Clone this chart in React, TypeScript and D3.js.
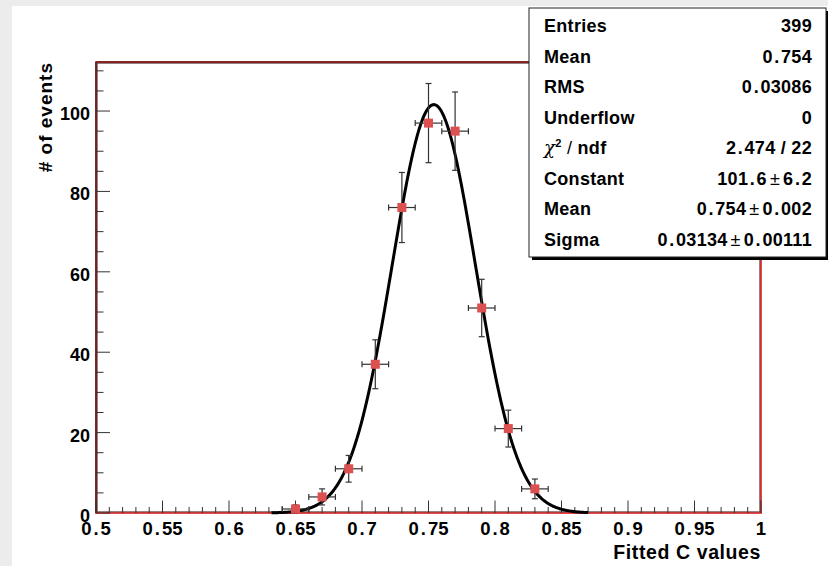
import React from "react";
import * as d3 from "d3";

const binCenters = [0.65, 0.67, 0.69, 0.71, 0.73, 0.75, 0.77, 0.79, 0.81, 0.83];
const binCounts = [1, 4, 11, 37, 76, 97, 95, 51, 21, 6];
const binHalfWidth = 0.01;
const fitConstant = 101.6;
const fitMean = 0.754;
const fitSigma = 0.03134;
const fitRange = [0.632, 0.87];
const xTickLabels = ["0.5", "0.55", "0.6", "0.65", "0.7", "0.75", "0.8", "0.85", "0.9", "0.95", "1"];
const yTickLabels = ["0", "20", "40", "60", "80", "100"];
const statLabels = ["Entries", "Mean", "RMS", "Underflow", "CHI", "Constant", "Mean", "Sigma"];
const statValues = ["399", "0.754", "0.03086", "0", "2.474 / 22", "101.6|6.2", "0.754|0.002", "0.03134|0.00111"];

const W = 828;
const H = 566;
const F = "'Liberation Sans', Arial, Helvetica, sans-serif";

function numSpans(s: string, gap: number) {
  const parts = s.split(".");
  if (parts.length === 1) return <tspan>{s}</tspan>;
  return (
    <>
      <tspan>{parts[0]}</tspan>
      <tspan dx={gap}>.</tspan>
      <tspan dx={gap}>{parts[1]}</tspan>
    </>
  );
}

function NumText({ s, x, y, anchor, size, gap }: { s: string; x: number; y: number; anchor: string; size: number; gap: number }) {
  return (
    <text x={x} y={y} textAnchor={anchor} fontFamily={F} fontWeight="bold" fontSize={size} fill="#000">
      {numSpans(s, gap)}
    </text>
  );
}

export default function App() {
  const x = d3.scaleLinear().domain([0.5, 1]).range([96, 761]);
  const y = d3.scaleLinear().domain([0, 112.2]).range([513, 62]);
  const gauss = (v: number) => fitConstant * Math.exp(-((v - fitMean) ** 2) / (2 * fitSigma * fitSigma));
  const pts = d3.range(0, 401).map((i) => fitRange[0] + ((fitRange[1] - fitRange[0]) * i) / 400);
  const line = d3
    .line<number>()
    .x((d) => x(d))
    .y((d) => y(gauss(d)));

  const xMinor = d3.range(0, 51).map((i) => 0.5 + i * 0.01);
  const yMinor = d3.range(0, 23).map((i) => i * 5);

  const boxL = 529,
    boxT = 8,
    boxR = 826,
    boxB = 257;

  return (
    <svg width={W} height={H} style={{ position: "fixed", left: 0, top: 0 }}>
      <rect x={0} y={0} width={W} height={H} fill="#ececec" />
      <rect x={12} y={6} width={W - 12} height={H - 6} fill="#fff" />

      {/* frame */}
      <rect x={96} y={62} width={665} height={451} fill="none" stroke="#e01818" strokeWidth={1.6} />
      <rect x={97.2} y={63.2} width={662.6} height={448.6} fill="none" stroke="#3a1010" strokeWidth={1} opacity={0.75} />
      <line x1={96} x2={96} y1={62} y2={513} stroke="#5a1a1a" strokeWidth={1.5} />
      <line x1={96} x2={761} y1={62} y2={62} stroke="#6a1c1c" strokeWidth={1.5} />

      {/* x ticks */}
      {xMinor.map((v, i) => {
        const major = i % 5 === 0;
        return (
          <line key={"xt" + i} x1={x(v)} x2={x(v)} y1={513} y2={513 - (major ? 12.5 : 6)} stroke="#333" strokeWidth={1} />
        );
      })}
      {/* y ticks */}
      {yMinor.map((v, i) => {
        const major = v % 20 === 0;
        return (
          <line key={"yt" + i} x1={96} x2={96 + (major ? 14 : 7.5)} y1={y(v)} y2={y(v)} stroke="#333" strokeWidth={1} />
        );
      })}

      {/* x tick labels */}
      {xTickLabels.map((s, i) => (
        <NumText key={"xl" + i} s={s} x={x(+s)} y={535} anchor="middle" size={18.5} gap={2} />
      ))}
      {/* y tick labels */}
      {yTickLabels.map((s, i) => (
        <NumText key={"yl" + i} s={s} x={90} y={y(+s) + 9} anchor="end" size={18} gap={2} />
      ))}

      {/* axis titles */}
      <text x={761} y={559} textAnchor="end" fontFamily={F} fontWeight="bold" fontSize={19.5} letterSpacing={0.6}>
        Fitted C values
      </text>
      <text
        transform="translate(52,62) rotate(-90)"
        textAnchor="end"
        fontFamily={F}
        fontWeight="bold"
        fontSize={19}
        letterSpacing={1}
      >
        # of events
      </text>

      {/* fit curve */}
      <path d={line(pts) || ""} fill="none" stroke="#000" strokeWidth={3} strokeLinejoin="round" />

      {/* data points */}
      {binCenters.map((c, i) => {
        const n = binCounts[i];
        const e = Math.sqrt(n);
        const cx = x(c);
        const cy = y(n);
        const x0 = x(c - binHalfWidth);
        const x1 = x(c + binHalfWidth);
        const yt = y(n + e);
        const yb = y(Math.max(0, n - e));
        return (
          <g key={"p" + i} stroke="#333" strokeWidth={1.2}>
            <line x1={cx} x2={cx} y1={yt} y2={yb} />
            <line x1={cx - 3} x2={cx + 3} y1={yt} y2={yt} />
            <line x1={cx - 3} x2={cx + 3} y1={yb} y2={yb} />
            <line x1={x0} x2={x1} y1={cy} y2={cy} />
            <line x1={x0} x2={x0} y1={cy - 3} y2={cy + 3} />
            <line x1={x1} x2={x1} y1={cy - 3} y2={cy + 3} />
            <rect x={cx - 4.5} y={cy - 4.5} width={9} height={9} fill="#dd5050" stroke="none" />
          </g>
        );
      })}

      {/* stats box */}
      <rect x={boxL + 3} y={boxT + 3} width={boxR - boxL} height={boxB - boxT} fill="#000" />
      <rect x={boxL} y={boxT} width={boxR - boxL} height={boxB - boxT} fill="#fff" stroke="#222" strokeWidth={1} />
      {statLabels.map((lab, i) => {
        const by = 32 + i * 30.5;
        const val = statValues[i];
        const vParts = val.split("|");
        return (
          <g key={"s" + i} fontFamily={F} fontSize={18} fontWeight="bold" letterSpacing={0.3}>
            <text x={544} y={by} textAnchor="start">
              {lab === "CHI" ? (
                <>
                  <tspan fontFamily="'DejaVu Serif', serif" fontStyle="italic" fontWeight="normal">χ</tspan>
                  <tspan fontSize={11} dy={-7}>2</tspan>
                  <tspan dy={7} fontWeight="normal"> /</tspan>
                  <tspan> ndf</tspan>
                </>
              ) : (
                lab
              )}
            </text>
            <text x={812} y={by} textAnchor="end">
              {vParts.length === 1 ? (
                numSpans(val, 1.5)
              ) : (
                <>
                  {numSpans(vParts[0], 1.5)}
                  <tspan fontWeight="normal" dx={3}>±</tspan>
                  <tspan dx={3}>{numSpans(vParts[1], 1.5)}</tspan>
                </>
              )}
            </text>
          </g>
        );
      })}
    </svg>
  );
}
